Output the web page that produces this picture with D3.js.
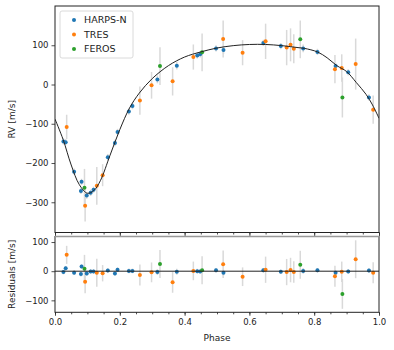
<!DOCTYPE html>
<html>
<head>
<meta charset="utf-8">
<script src="https://cdn.jsdelivr.net/npm/d3@7"></script>
<style>
  body { margin: 0; background: #fff; }
  svg { display: block; font-family: "DejaVu Sans", sans-serif; }
</style>
</head>
<body>
<svg id="chart" width="394" height="350"></svg>
<script>
// HARPS-N
const harpsPhase = [0.026, 0.033, 0.059, 0.080, 0.082, 0.098, 0.110, 0.119, 0.163, 0.185, 0.193, 0.228, 0.239, 0.316, 0.376, 0.439, 0.448, 0.497, 0.520, 0.643, 0.697, 0.766, 0.810, 0.866, 0.905, 0.969];
const harpsRV    = [-145, -147, -222, -271, -248, -283, -276, -268, -185, -149, -121, -69, -55, 13, 48, 74, 77, 92, 88, 106, 98, 92, 83, 47, 31, -33];
const harpsErr   = [8, 8, 8, 8, 8, 8, 8, 8, 8, 8, 8, 8, 8, 10, 10, 8, 8, 8, 10, 8, 8, 10, 8, 8, 8, 8];
const harpsRes   = [-3, 10, -5, -10, 16, -8, -1, -1, 2, -8, 5, 1, 1, -3, -2, 0, -1, 3, -5, 3, -2, 1, 3, -5, -1, 2];

// TRES
const tresPhase = [0.036, 0.093, 0.129, 0.147, 0.262, 0.298, 0.363, 0.427, 0.519, 0.579, 0.650, 0.715, 0.727, 0.737, 0.864, 0.885, 0.928, 0.982];
const tresRV    = [-108, -309, -258, -231, -41, -2, 8, 70, 116, 81, 110, 94, 101, 91, 39, 42, 52, -64];
const tresErr   = [31, 40, 48, 28, 36, 34, 36, 32, 47, 32, 45, 45, 42, 37, 36, 35, 65, 36];
const tresRes   = [56, -36, -5, -7, -13, -4, -38, 1, 24, -19, 5, -3, 4, -3, -17, -2, 41, -5];

// FEROS
const ferosPhase = [0.091, 0.324, 0.454, 0.757, 0.887];
const ferosRV    = [-263, 47, 82, 115, -33];
const ferosErr   = [48, 48, 48, 48, 51];
const ferosRes   = [8, 25, 3, 22, -78];

// model curve
const modelPhase = [0.00, 0.025, 0.05, 0.075, 0.10, 0.12, 0.14, 0.17, 0.20, 0.23, 0.26, 0.30, 0.35, 0.40, 0.45, 0.50, 0.55, 0.60, 0.65, 0.70, 0.75, 0.77, 0.81, 0.84, 0.87, 0.90, 0.93, 0.96, 0.98, 1.00];
const modelRV    = [-88, -140, -205, -255, -277, -270, -245, -180, -115, -60, -22, 15, 48, 70, 83, 93, 99, 102, 102, 99, 94, 92, 83, 68, 48, 33, 5, -25, -52, -86];

const xTicks = [0, 0.2, 0.4, 0.6, 0.8, 1.0];
const rvTicks = [100, 0, -100, -200, -300];
const resTicks = [100, 0, -100];

const series = [
  { name: "HARPS-N", color: "#1f77b4", phase: harpsPhase, rv: harpsRV, err: harpsErr, res: harpsRes },
  { name: "TRES", color: "#ff7f0e", phase: tresPhase, rv: tresRV, err: tresErr, res: tresRes },
  { name: "FEROS", color: "#2ca02c", phase: ferosPhase, rv: ferosRV, err: ferosErr, res: ferosRes }
];

const svg = d3.select("#chart");
const left = 55, right = 379;
const top1 = 6, bot1 = 232.5;
const top2 = 236.5, bot2 = 312.3;

const x = d3.scaleLinear().domain([0, 1]).range([left, right]);
const y1 = d3.scaleLinear().domain([-377, 200]).range([bot1, top1]);
const y2 = d3.scaleLinear().domain([-141, 119]).range([bot2, top2]);

svg.append("defs").append("clipPath").attr("id", "clip1")
  .append("rect").attr("x", left).attr("y", top1).attr("width", right - left).attr("height", bot1 - top1);

function points(sel, yScale, key) {
  series.forEach(s => {
    const d = s.phase.map((p, i) => ({ p: p, v: s[key][i], e: s.err[i] }));
    sel.append("g").selectAll("line")
      .data(d).enter().append("line")
      .attr("x1", d => x(d.p)).attr("x2", d => x(d.p))
      .attr("y1", d => yScale(d.v - d.e)).attr("y2", d => yScale(d.v + d.e))
      .attr("stroke", "#d9d9d9").attr("stroke-width", 1.5);
  });
  series.forEach(s => {
    const d = s.phase.map((p, i) => ({ p: p, v: s[key][i] }));
    sel.append("g").selectAll("circle")
      .data(d).enter().append("circle")
      .attr("cx", d => x(d.p)).attr("cy", d => yScale(d.v))
      .attr("r", 2).attr("fill", s.color);
  });
}

// top panel
const g1 = svg.append("g");
points(g1, y1, "rv");
const line = d3.line().x((d, i) => x(modelPhase[i])).y(d => y1(d)).curve(d3.curveCatmullRom);
g1.append("path").attr("d", line(modelRV)).attr("clip-path", "url(#clip1)")
  .attr("fill", "none").attr("stroke", "#222").attr("stroke-width", 1);

// bottom panel
const g2 = svg.append("g");
points(g2, y2, "res");
g2.append("line").attr("x1", left).attr("x2", right).attr("y1", y2(0)).attr("y2", y2(0))
  .attr("stroke", "#222").attr("stroke-width", 1);

// axes
function xAxis(yPos, labels) {
  const minor = svg.append("g").attr("transform", `translate(0,${yPos})`)
    .call(d3.axisBottom(x).ticks(20).tickSize(2).tickFormat(""));
  minor.select(".domain").remove();
  const major = svg.append("g").attr("transform", `translate(0,${yPos})`)
    .call(d3.axisBottom(x).tickValues(xTicks).tickSize(3.5).tickPadding(3)
      .tickFormat(labels ? d3.format(".1f") : ""));
  major.select(".domain").remove();
  major.selectAll("text").attr("font-size", "8.5px").attr("fill", "#222").attr("font-family", "DejaVu Sans");
  svg.selectAll(".tick line").attr("stroke", "#222").attr("stroke-width", 0.8);
}
function yAxis(scale, ticks) {
  const a = svg.append("g").attr("transform", `translate(${left},0)`)
    .call(d3.axisLeft(scale).tickValues(ticks).tickSize(3.5).tickPadding(3));
  a.select(".domain").remove();
  a.selectAll("text").attr("font-size", "8.5px").attr("fill", "#222").attr("font-family", "DejaVu Sans");
  a.selectAll(".tick line").attr("stroke", "#222").attr("stroke-width", 0.8);
}
xAxis(bot1, false);
xAxis(bot2, true);
yAxis(y1, rvTicks);
yAxis(y2, resTicks);

// frames
svg.append("rect").attr("x", left).attr("y", top1).attr("width", right - left).attr("height", bot1 - top1)
  .attr("fill", "none").attr("stroke", "#222").attr("stroke-width", 1);
svg.append("rect").attr("x", left).attr("y", top2).attr("width", right - left).attr("height", bot2 - top2)
  .attr("fill", "none").attr("stroke", "#222").attr("stroke-width", 1);
svg.append("line").attr("x1", left).attr("x2", right).attr("y1", top2).attr("y2", top2)
  .attr("stroke", "#999").attr("stroke-width", 1.3);

// labels
svg.append("text").attr("x", (left + right) / 2).attr("y", 341).attr("text-anchor", "middle")
  .attr("font-size", "9px").attr("fill", "#222").text("Phase");
svg.append("text").attr("transform", `translate(15,${(top1 + bot1) / 2}) rotate(-90)`)
  .attr("text-anchor", "middle").attr("font-size", "9px").attr("fill", "#222").text("RV [m/s]");
svg.append("text").attr("transform", `translate(15,${(top2 + bot2) / 2}) rotate(-90)`)
  .attr("text-anchor", "middle").attr("font-size", "9px").attr("fill", "#222").text("Residuals [m/s]");

// legend
const lg = svg.append("g");
lg.append("rect").attr("x", 60).attr("y", 11).attr("width", 73).attr("height", 47).attr("rx", 2)
  .attr("fill", "#fff").attr("fill-opacity", 0.8).attr("stroke", "#d0d0d0").attr("stroke-width", 0.8);
series.forEach((s, i) => {
  const yy = 20 + i * 14.5;
  lg.append("circle").attr("cx", 74).attr("cy", yy).attr("r", 2).attr("fill", s.color);
  lg.append("text").attr("x", 84).attr("y", yy).attr("dy", "0.35em")
    .attr("font-size", "9.5px").attr("fill", "#222").text(s.name);
});
</script>
</body>
</html>
